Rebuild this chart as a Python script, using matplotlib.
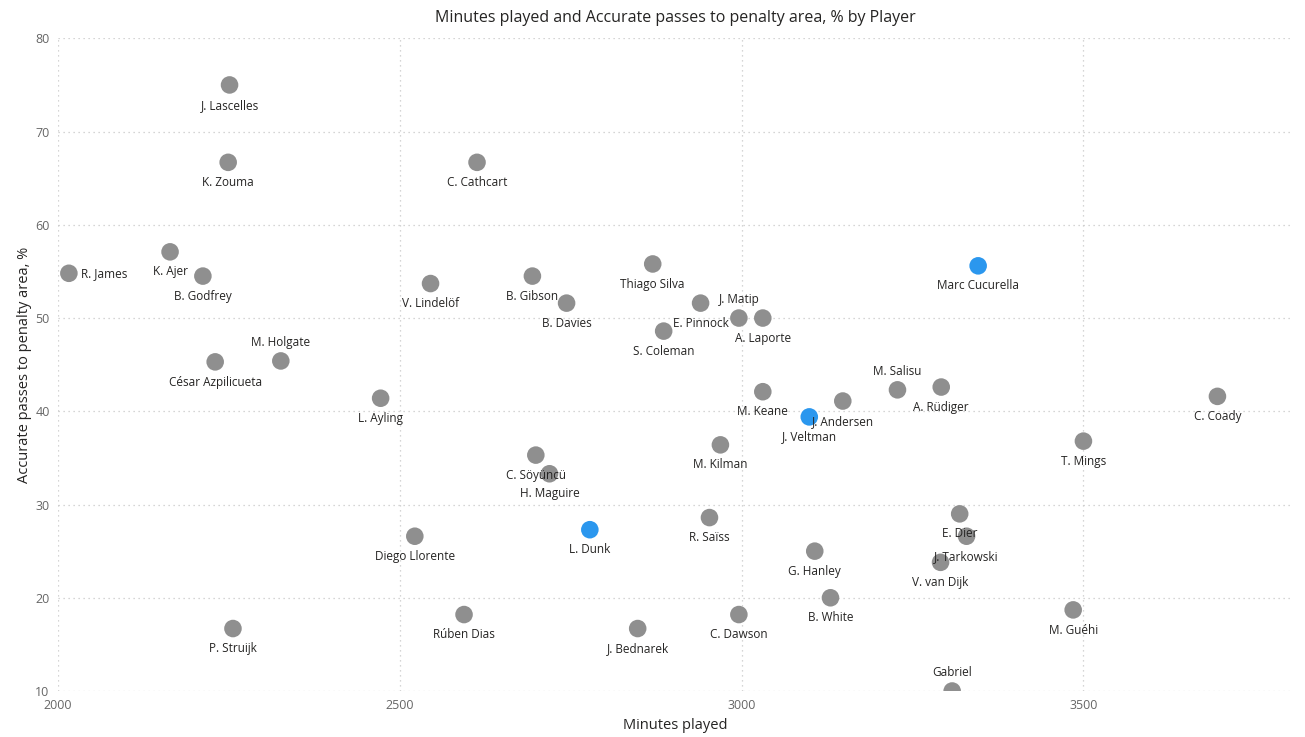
import matplotlib.pyplot as plt

# data
players = ["J. Lascelles", "K. Zouma", "C. Cathcart", "R. James", "K. Ajer", "B. Godfrey",
           "V. Lindelöf", "B. Gibson", "B. Davies", "Thiago Silva", "E. Pinnock", "J. Matip",
           "A. Laporte", "S. Coleman", "M. Holgate", "César Azpilicueta", "L. Ayling", "M. Keane",
           "J. Veltman", "J. Andersen", "M. Salisu", "A. Rüdiger", "Marc Cucurella", "C. Coady",
           "T. Mings", "M. Kilman", "C. Söyüncü", "H. Maguire", "L. Dunk", "R. Saïss",
           "Diego Llorente", "G. Hanley", "B. White", "C. Dawson", "Rúben Dias", "J. Bednarek",
           "P. Struijk", "E. Dier", "J. Tarkowski", "V. van Dijk", "M. Guéhi", "Gabriel"]
minutes = [2251, 2249, 2613, 2016, 2164, 2212,
           2545, 2694, 2744, 2870, 2940, 2996,
           3031, 2886, 2326, 2230, 2472, 3031,
           3099, 3148, 3228, 3292, 3346, 3696,
           3500, 2969, 2699, 2719, 2778, 2953,
           2522, 3107, 3130, 2996, 2594, 2848,
           2256, 3319, 3329, 3291, 3485, 3308]
acc_pass = [75.0, 66.7, 66.7, 54.8, 57.1, 54.5,
            53.7, 54.5, 51.6, 55.8, 51.6, 50.0,
            50.0, 48.6, 45.4, 45.3, 41.4, 42.1,
            39.4, 41.1, 42.3, 42.6, 55.6, 41.6,
            36.8, 36.4, 35.3, 33.3, 27.3, 28.6,
            26.6, 25.0, 20.0, 18.2, 18.2, 16.7,
            16.7, 29.0, 26.6, 23.8, 18.7, 10.0]
highlight = ["J. Veltman", "Marc Cucurella", "L. Dunk"]

# where the label sits relative to the dot (default: below)
label_side = {"R. James": "right", "M. Holgate": "above", "J. Matip": "above",
              "M. Salisu": "above", "Gabriel": "above"}

plt.rcParams['font.family'] = ['Open Sans', 'DejaVu Sans']

fig = plt.figure(figsize=(13.05, 7.37), dpi=100)
ax = fig.add_axes([0.0444, 0.0624, 0.9456, 0.8856])

colors = ['#2b97ee' if p in highlight else '#8f8f8f' for p in players]
ax.scatter(minutes, acc_pass, s=160, c=colors, linewidths=0, zorder=3)

for p, x, y in zip(players, minutes, acc_pass):
    side = label_side.get(p, "below")
    if side == "right":
        ax.annotate(p, (x, y), xytext=(9, 0), textcoords='offset points',
                    ha='left', va='center', fontsize=8.5, color='#252423', zorder=4)
    elif side == "above":
        ax.annotate(p, (x, y), xytext=(0, 13), textcoords='offset points',
                    ha='center', va='center', fontsize=8.5, color='#252423', zorder=4)
    else:
        ax.annotate(p, (x, y), xytext=(0, -14.5), textcoords='offset points',
                    ha='center', va='center', fontsize=8.5, color='#252423', zorder=4)

ax.set_xlim(2000, 3805)
ax.set_ylim(10, 80)
ax.set_xticks([2000, 2500, 3000, 3500])
ax.set_yticks([10, 20, 30, 40, 50, 60, 70, 80])
ax.grid(True, linestyle=(0, (1, 3)), color='#c8c8c8', linewidth=0.9)
ax.set_axisbelow(True)
for s in ax.spines.values():
    s.set_visible(False)
ax.tick_params(length=0, labelsize=9, colors='#666666', pad=6)

ax.set_xlabel("Minutes played", fontsize=10.5, color='#252423', labelpad=4)
ax.set_ylabel("Accurate passes to penalty area, %", fontsize=10.5, color='#252423', labelpad=2)
ax.set_title("Minutes played and Accurate passes to penalty area, % by Player",
             fontsize=11.5, color='#252423', pad=12)

fig.savefig("out.png", dpi=100)
